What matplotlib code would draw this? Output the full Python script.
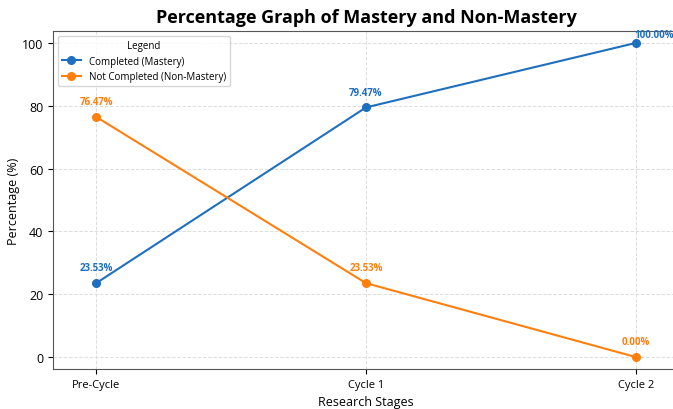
import matplotlib.pyplot as plt

plt.rcParams['font.family'] = ['Open Sans', 'DejaVu Sans']

stages = ['Pre-Cycle', 'Cycle 1', 'Cycle 2']
mastery = [23.53, 79.47, 100.00]
non_mastery = [76.47, 23.53, 0.00]

blue = '#1f6fbf'
orange = '#ff7f0e'

fig = plt.figure(figsize=(6.73, 4.1), dpi=100)
ax = fig.add_axes([53 / 673, 1 - 370 / 410, 626 / 673, 338 / 410])

x = list(range(len(stages)))
ax.plot(x, mastery, marker='o', color=blue, lw=1.5, ms=5.5, label='Completed (Mastery)')
ax.plot(x, non_mastery, marker='o', color=orange, lw=1.5, ms=5.5, label='Not Completed (Non-Mastery)')

for xi, v in zip(x, mastery):
    if xi == x[-1]:
        # last label sits to the right of the point
        ax.annotate(f'{v:.2f}%', (xi, v), xytext=(-1, 2), textcoords='offset points',
                    ha='left', va='bottom', color=blue, fontsize=7, fontweight='bold')
    else:
        ax.annotate(f'{v:.2f}%', (xi, v), xytext=(0, 7), textcoords='offset points',
                    ha='center', va='bottom', color=blue, fontsize=7, fontweight='bold')
for xi, v in zip(x, non_mastery):
    ax.annotate(f'{v:.2f}%', (xi, v), xytext=(0, 7), textcoords='offset points',
                ha='center', va='bottom', color=orange, fontsize=7, fontweight='bold')

ax.set_xticks(x)
ax.set_xticklabels(stages, fontsize=8)
ax.set_yticks([0, 20, 40, 60, 80, 100])
ax.tick_params(axis='y', labelsize=9)
ax.set_xlim(-0.16, 2.16)
ax.set_ylim(-3.8, 103.8)
ax.grid(True, linestyle='--', color='#dddddd', linewidth=0.7)
ax.set_axisbelow(True)
for s in ax.spines.values():
    s.set_color('#555555')
ax.spines['right'].set_visible(False)

ax.set_xlabel('Research Stages', fontsize=9)
ax.set_ylabel('Percentage (%)', fontsize=9)
ax.yaxis.set_label_coords(-0.053, 0.5)
fig.text(366 / 673, 1 - 18 / 410, 'Percentage Graph of Mastery and Non-Mastery',
         ha='center', va='center', fontsize=13, fontweight='bold')

leg = ax.legend(title='Legend', loc='upper left', fontsize=7, title_fontsize=7,
                frameon=True, edgecolor='#cccccc')

fig.savefig('out.png', dpi=100)
